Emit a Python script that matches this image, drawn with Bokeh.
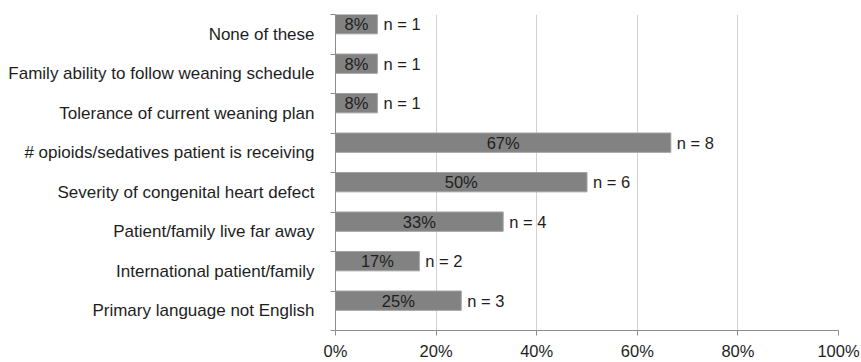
from bokeh.plotting import figure
from bokeh.models import ColumnDataSource, Range1d, FixedTicker
from bokeh.core.properties import value
from bokeh.embed import file_html
from bokeh.resources import INLINE

# Factors, listed bottom to top
categories = [
    "Primary language not English",
    "International patient/family",
    "Patient/family live far away",
    "Severity of congenital heart defect",
    "# opioids/sedatives patient is receiving",
    "Tolerance of current weaning plan",
    "Family ability to follow weaning schedule",
    "None of these",
]
counts = [3, 2, 4, 6, 8, 1, 1, 1]
respondents = 12
x_ticks = [0, 20, 40, 60, 80, 100]
x_tick_labels = ["0%", "20%", "40%", "60%", "80%", "100%"]

FONT = "Liberation Sans"
FS = "16.5px"
CAT_FS = "17px"
TXT = "#1e1e1e"
BAR_H = 0.49

pct = [c / respondents * 100 for c in counts]
idx = list(range(len(categories)))
src = ColumnDataSource(dict(
    cat=categories,
    n=counts,
    pct=pct,
    half=[v / 2 for v in pct],
    yc=[i + 1 - BAR_H / 2 for i in idx],
    pct_lbl=[f"{round(v)}%" for v in pct],
    n_lbl=[f"n = {c}" for c in counts],
))

p = figure(width=861, height=362, output_backend="svg", toolbar_location=None,
           x_range=Range1d(0, 100), y_range=Range1d(0, len(categories)),
           min_border_left=335, min_border_right=23, min_border_top=14,
           min_border_bottom=29)
p.outline_line_color = None
p.background_fill_color = "white"
p.border_fill_color = "white"

p.hbar(y="yc", right="pct", left=0, height=BAR_H, source=src,
       fill_color="#828282", line_color="#a2a2a2", line_width=1)

p.text(x="half", y="yc", text="pct_lbl", source=src, text_align="center",
       text_baseline="middle", text_font=value(FONT), text_font_size=FS,
       text_color=TXT)
p.text(x="pct", y="yc", text="n_lbl", source=src, x_offset=6,
       text_align="left", text_baseline="middle", text_font=value(FONT),
       text_font_size=FS, text_color=TXT)

# x axis: percent scale with vertical grid lines
xa = p.xaxis[0]
xa.ticker = FixedTicker(ticks=x_ticks, minor_ticks=[])
xa.major_label_overrides = {t: l for t, l in zip(x_ticks, x_tick_labels)}
xa.axis_line_color = "#8c8c8c"
xa.major_tick_line_color = "#8c8c8c"
xa.major_tick_out = 5
xa.major_tick_in = 0
xa.minor_tick_line_color = None
xa.major_label_standoff = 6
xa.major_label_text_font = FONT
xa.major_label_text_font_size = FS
xa.major_label_text_color = TXT

# y axis: factor names centred in each slot, tick marks at slot edges
ya = p.yaxis[0]
ya.ticker = FixedTicker(ticks=[i + 0.5 for i in idx],
                        minor_ticks=list(range(len(categories) + 1)))
ya.major_label_overrides = {i + 0.5: c for i, c in zip(idx, categories)}
ya.axis_line_color = "#8c8c8c"
ya.major_tick_line_color = None
ya.major_tick_out = 0
ya.major_tick_in = 0
ya.minor_tick_line_color = "#8c8c8c"
ya.minor_tick_out = 5
ya.minor_tick_in = 0
ya.major_label_standoff = 16
ya.major_label_text_font = FONT
ya.major_label_text_font_size = CAT_FS
ya.major_label_text_color = TXT

p.xgrid.grid_line_color = "#d2d2d2"
p.xgrid.grid_line_width = 1
p.ygrid.grid_line_color = None

open("out.html", "w").write(file_html(p, INLINE))
